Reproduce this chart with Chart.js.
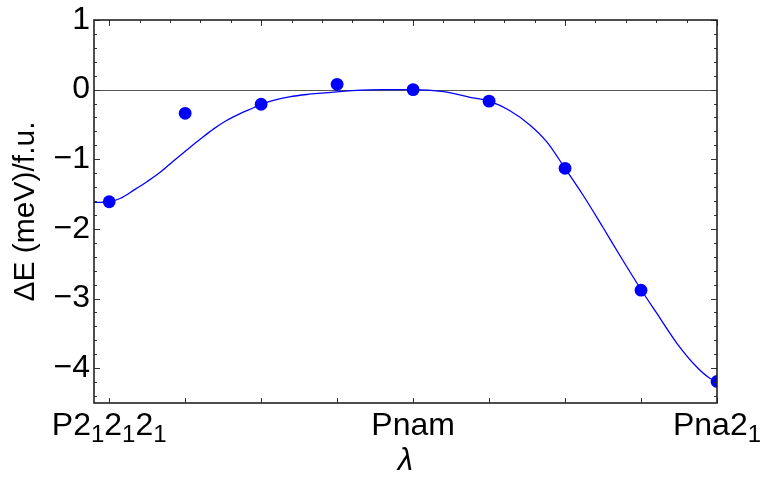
<!DOCTYPE html>
<html>
<head>
<meta charset="utf-8">
<title>Energy along the lambda path</title>
<script src="https://cdn.jsdelivr.net/npm/chart.js"></script>
<style>
  body { margin: 0; background: #fff; }
</style>
</head>
<body>
<canvas id="energyChart" width="764" height="480"></canvas>
<script>
// computed energies at each lambda step
const lambdaSteps = [0, 1, 2, 3, 4, 5, 6, 7, 8];
const deltaE = [-1.61, -0.34, -0.21, 0.076, 0.00, -0.165, -1.13, -2.88, -4.19];

// fitted curve, sampled along lambda
const fitLambda = [-0.2, 0, 0.15, 0.33, 0.5, 0.68, 0.85, 1.03, 1.2, 1.38, 1.55, 1.73, 1.9, 2.0, 2.2, 2.37, 2.6, 2.8, 3.2, 3.6, 4.0, 4.4, 4.75, 5.0, 5.27, 5.54, 5.76, 6.0, 6.24, 6.5, 6.76, 7.0, 7.2, 7.47, 7.73, 7.9, 8.0];
const fitE = [-1.62, -1.61, -1.56, -1.44, -1.32, -1.18, -1.02, -0.86, -0.71, -0.56, -0.44, -0.34, -0.26, -0.21, -0.145, -0.105, -0.07, -0.05, -0.015, 0, 0, -0.03, -0.11, -0.165, -0.30, -0.51, -0.75, -1.13, -1.52, -1.98, -2.45, -2.87, -3.20, -3.64, -3.98, -4.14, -4.19];

// structure names on the lambda axis (₁ is drawn as a subscript)
const phaseTicks = [0, 4, 8];
const phaseLabels = ['P2₁2₁2₁', 'Pnam', 'Pna2₁'];
const energyTicks = [1, 0, -1, -2, -3, -4];

const FONT = "'Liberation Sans', Arial, sans-serif";
const LABEL_SIZE = 32;
const SUB_SIZE = 24;

function range(from, to, step) {
  const out = [];
  for (let v = from; v <= to + 1e-9; v += step) out.push(Math.round(v * 100) / 100);
  return out;
}

// thin line at zero energy, behind the data
const zeroLine = {
  id: 'zeroLine',
  beforeDatasetsDraw(chart) {
    const { ctx, chartArea: a, scales: { y } } = chart;
    const py = Math.round(y.getPixelForValue(0)) + 0.5;
    ctx.save();
    ctx.strokeStyle = '#555';
    ctx.lineWidth = 1;
    ctx.beginPath();
    ctx.moveTo(a.left, py);
    ctx.lineTo(a.right, py);
    ctx.stroke();
    ctx.restore();
  }
};

// frame with inward ticks on all four sides
const frameTicks = {
  id: 'frameTicks',
  afterDatasetsDraw(chart) {
    const { ctx, chartArea: a, scales: { x, y } } = chart;
    ctx.save();
    ctx.strokeStyle = '#333';
    ctx.lineWidth = 1;
    ctx.beginPath();
    // bottom: every lambda step
    range(0, 8, 1).forEach(v => {
      const px = Math.round(x.getPixelForValue(v)) + 0.5;
      ctx.moveTo(px, a.bottom);
      ctx.lineTo(px, a.bottom - 5);
    });
    // top: majors every 2, minors every 0.4
    range(0, 8, 0.4).forEach(v => {
      const px = Math.round(x.getPixelForValue(v)) + 0.5;
      const len = Math.abs(v / 2 - Math.round(v / 2)) < 1e-6 ? 6 : 3;
      ctx.moveTo(px, a.top);
      ctx.lineTo(px, a.top + len);
    });
    // left and right: majors every 1, minors every 0.2
    range(-4.4, 1, 0.2).forEach(v => {
      const py = Math.round(y.getPixelForValue(v)) + 0.5;
      const len = Math.abs(v - Math.round(v)) < 1e-6 ? 6 : 3;
      ctx.moveTo(a.left, py);
      ctx.lineTo(a.left + len, py);
      ctx.moveTo(a.right, py);
      ctx.lineTo(a.right - len, py);
    });
    ctx.stroke();
    ctx.lineWidth = 1.6;
    ctx.strokeStyle = '#222';
    ctx.strokeRect(a.left, a.top, a.right - a.left, a.bottom - a.top);
    ctx.restore();
  }
};

// space-group labels with real subscripts under the lambda axis
const phaseNames = {
  id: 'phaseNames',
  afterDraw(chart) {
    const { ctx, chartArea: a, scales: { x } } = chart;
    const base = a.bottom + 32;
    ctx.save();
    ctx.fillStyle = '#000';
    ctx.textBaseline = 'alphabetic';
    ctx.textAlign = 'left';
    phaseTicks.forEach((v, i) => {
      const parts = Array.from(phaseLabels[i]).map(ch =>
        ch === '₁' ? { t: '1', sub: true } : { t: ch, sub: false });
      let width = 0;
      parts.forEach(p => {
        ctx.font = (p.sub ? SUB_SIZE : LABEL_SIZE) + 'px ' + FONT;
        p.w = ctx.measureText(p.t).width;
        width += p.w;
      });
      let cx = x.getPixelForValue(v) - width / 2;
      parts.forEach(p => {
        ctx.font = (p.sub ? SUB_SIZE : LABEL_SIZE) + 'px ' + FONT;
        ctx.fillText(p.t, cx, p.sub ? base + 7 : base);
        cx += p.w;
      });
    });
    ctx.restore();
  }
};

new Chart(document.getElementById('energyChart'), {
  type: 'scatter',
  data: {
    datasets: [
      {
        label: 'calculated',
        data: lambdaSteps.map((l, i) => ({ x: l, y: deltaE[i] })),
        backgroundColor: '#0000ff',
        borderColor: '#0000ff',
        pointRadius: 6.4,
        pointHoverRadius: 6.4,
        borderWidth: 0
      },
      {
        label: 'fit',
        data: fitLambda.map((l, i) => ({ x: l, y: fitE[i] })),
        showLine: true,
        borderColor: '#0000ff',
        borderWidth: 1.3,
        pointRadius: 0,
        cubicInterpolationMode: 'monotone'
      }
    ]
  },
  options: {
    responsive: false,
    animation: false,
    layout: { padding: { top: 17, right: 47, left: 0, bottom: 0 } },
    plugins: { legend: { display: false }, tooltip: { enabled: false } },
    scales: {
      x: {
        type: 'linear',
        min: -0.2,
        max: 8,
        grid: { display: false, drawTicks: false },
        border: { display: false },
        ticks: { display: false },
        title: {
          display: true,
          text: 'λ',
          color: '#000',
          padding: 0,
          font: { family: FONT, size: 31, style: 'italic' }
        },
        afterFit: s => { s.height = 77; }
      },
      y: {
        min: -4.5,
        max: 1,
        grid: { display: false, drawTicks: false },
        border: { display: false },
        afterBuildTicks: s => { s.ticks = energyTicks.map(v => ({ value: v })); },
        ticks: {
          padding: 4,
          color: '#000',
          font: { family: FONT, size: 32, lineHeight: 1 },
          callback: v => (v < 0 ? '\u2212' + Math.abs(v) : String(v))
        },
        title: {
          display: true,
          text: 'ΔE (meV)/f.u.',
          color: '#000',
          padding: { top: 8, bottom: 0 },
          font: { family: FONT, size: 30 }
        },
        afterFit: s => { s.width = 94; }
      }
    }
  },
  plugins: [zeroLine, frameTicks, phaseNames]
});
</script>
</body>
</html>
